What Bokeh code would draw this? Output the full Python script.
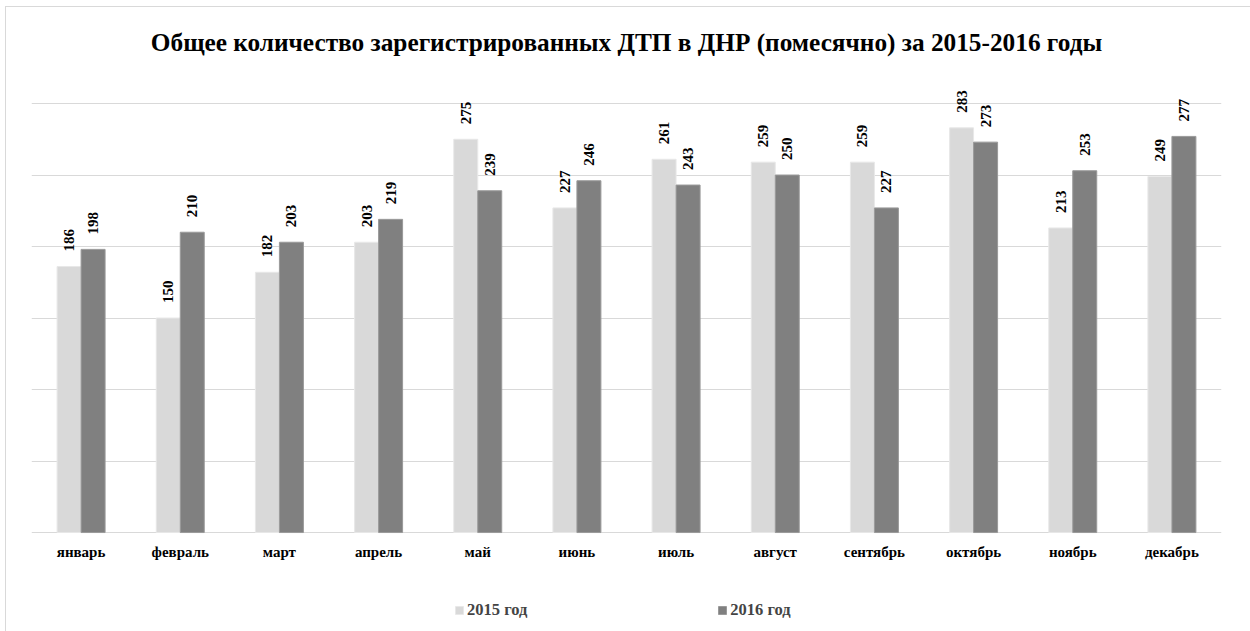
from math import pi
from bokeh.plotting import figure
from bokeh.models import ColumnDataSource, FactorRange, Range1d, FixedTicker, LabelSet, Legend, LegendItem
from bokeh.transform import dodge
from bokeh.embed import file_html
from bokeh.resources import INLINE

months = ["январь", "февраль", "март", "апрель", "май", "июнь",
          "июль", "август", "сентябрь", "октябрь", "ноябрь", "декабрь"]
v2015 = [186, 150, 182, 203, 275, 227, 261, 259, 259, 283, 213, 249]
v2016 = [198, 210, 203, 219, 239, 246, 243, 250, 227, 273, 253, 277]
series_names = ["2015 год", "2016 год"]
title_text = "Общее количество зарегистрированных ДТП в ДНР (помесячно) за 2015-2016 годы"
grid_ticks = [0, 50, 100, 150, 200, 250, 300]

FONT = "Liberation Serif"
C15 = "#d9d9d9"
C16 = "#808080"

src = ColumnDataSource(dict(
    m=months, v15=v2015, v16=v2016, base=[0] * len(months),
    t15=[str(v) for v in v2015], t16=[str(v) for v in v2016],
))

frame_css = ("linear-gradient(#d9d9d9,#d9d9d9) 5px 6px / 1px 100% no-repeat, "
             "linear-gradient(#d9d9d9,#d9d9d9) 5px 6px / 100% 1px no-repeat, white")

p = figure(width=1250, height=631, x_range=FactorRange(*months, range_padding=0),
           y_range=Range1d(-69.2, 316.1), output_backend="svg", toolbar_location=None,
           y_axis_location=None, x_axis_location=None,
           min_border_left=31, min_border_right=29,
           min_border_top=80, min_border_bottom=0, title=title_text,
           styles={"background": frame_css})
p.x_range.factor_padding = 0
p.outline_line_color = None
p.background_fill_color = "white"
p.border_fill_alpha = 0

p.title.text_font = FONT
p.title.text_font_style = "bold"
p.title.text_font_size = "25.3px"
p.title.align = "center"
p.title.text_color = "#000000"
p.title.standoff = 50

bw = 0.242
r15 = p.vbar(x=dodge("m", -bw / 2, range=p.x_range), top="v15", width=bw, source=src,
             fill_color=C15, line_color="#e8e8e8", line_width=1)
r16 = p.vbar(x=dodge("m", bw / 2, range=p.x_range), top="v16", width=bw, source=src,
             fill_color=C16, line_color="#9a9a9a", line_width=1)

for fld, off in (("t15", -bw / 2), ("t16", bw / 2)):
    yfld = "v15" if fld == "t15" else "v16"
    p.add_layout(LabelSet(x=dodge("m", off, range=p.x_range), y=yfld, text=fld, source=src,
                          angle=pi / 2, y_offset=15, text_align="left", text_baseline="middle",
                          text_font=FONT, text_font_style="bold", text_font_size="15px",
                          text_color="#000000"))

# month names (category axis labels) under the baseline
p.add_layout(LabelSet(x="m", y="base", text="m", source=src, y_offset=-19,
                      text_align="center", text_baseline="middle",
                      text_font=FONT, text_font_style="bold", text_font_size="15px",
                      text_color="#000000"))

p.xgrid.grid_line_color = None
p.ygrid.ticker = FixedTicker(ticks=grid_ticks)
p.ygrid.grid_line_color = "#d9d9d9"
p.ygrid.grid_line_width = 1

legend = Legend(items=[LegendItem(label=series_names[0], renderers=[r15]),
                       LegendItem(label=series_names[1], renderers=[r16])],
                orientation="horizontal", location=(423, 11), spacing=190,
                glyph_width=10, glyph_height=10, label_standoff=3, padding=0, margin=0,
                label_text_font=FONT, label_text_font_style="bold", label_text_font_size="16.5px",
                label_height=20, border_line_color=None, background_fill_alpha=0)
p.add_layout(legend, "center")

open("out.html", "w").write(file_html(p, INLINE))
